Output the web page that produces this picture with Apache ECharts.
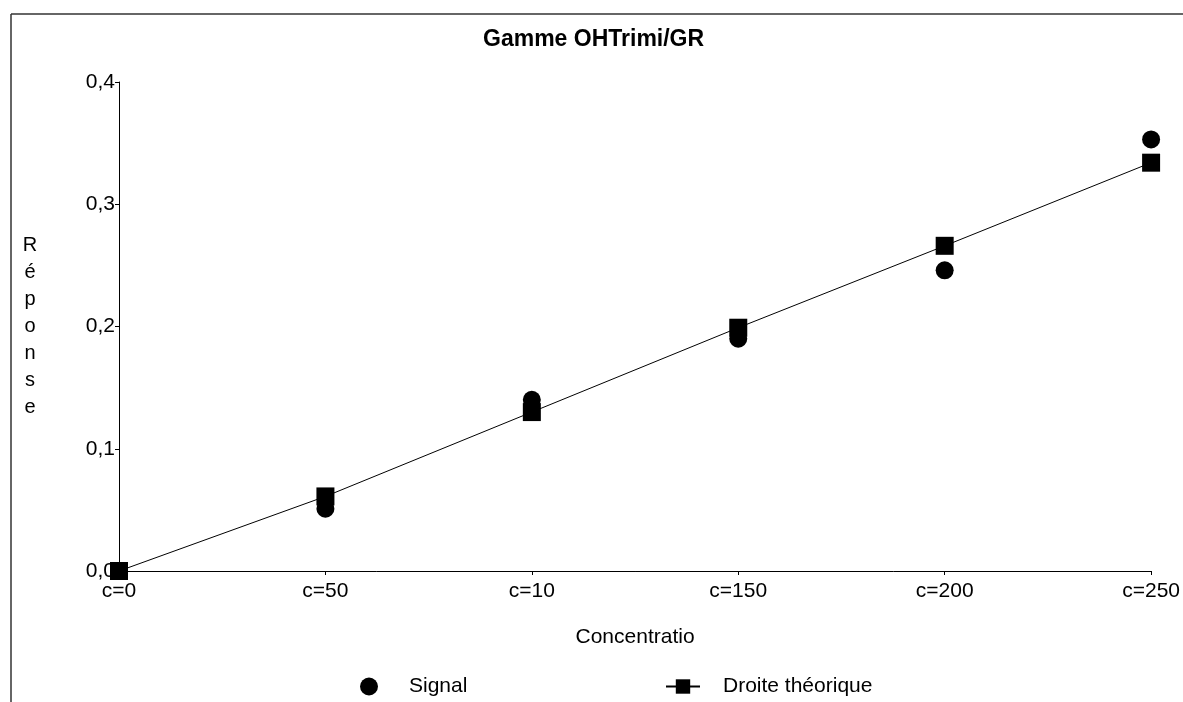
<!DOCTYPE html>
<html>
<head>
<meta charset="utf-8">
<script src="https://cdn.jsdelivr.net/npm/echarts@6/dist/echarts.min.js"></script>
<style>
html,body{margin:0;padding:0;background:#fff;}
#chart{width:1183px;height:702px;}
</style>
</head>
<body>
<div id="chart"></div>
<script>
var categories = ['c=0', 'c=50', 'c=10', 'c=150', 'c=200', 'c=250'];
var signalValues = [0, 0.051, 0.140, 0.190, 0.246, 0.353];
var droiteValues = [0, 0.061, 0.130, 0.199, 0.266, 0.334];
var yTicks = [0, 0.1, 0.2, 0.3, 0.4];

var FONT = '"Liberation Sans", Arial, sans-serif';
var chart = echarts.init(document.getElementById('chart'), null, {renderer: 'canvas'});

chart.setOption({
  backgroundColor: '#ffffff',
  animation: false,
  title: {
    text: 'Gamme OHTrimi/GR',
    left: 478,
    top: 23,
    textStyle: {fontFamily: FONT, fontSize: 23, fontWeight: 'bold', color: '#000'}
  },
  graphic: [
    {type: 'line', shape: {x1: 11, y1: 14, x2: 1183, y2: 14}, style: {stroke: '#333', lineWidth: 1.5}},
    {type: 'line', shape: {x1: 11, y1: 14, x2: 11, y2: 702}, style: {stroke: '#333', lineWidth: 1.5}}
  ],
  legend: [
    {
      data: [{name: 'Signal', icon: 'circle'}],
      left: 355,
      top: 671,
      itemWidth: 26,
      itemHeight: 18,
      textStyle: {fontFamily: FONT, fontSize: 21, color: '#000', padding: [0, 0, 0, 22]}
    },
    {
      data: ['Droite théorique'],
      left: 660,
      top: 671,
      itemWidth: 34,
      itemHeight: 18,
      textStyle: {fontFamily: FONT, fontSize: 21, color: '#000', padding: [0, 0, 0, 18]}
    }
  ],
  grid: {left: 119, right: 27, top: 82, bottom: 131, containLabel: false},
  xAxis: {
    type: 'category',
    data: categories,
    boundaryGap: false,
    name: 'Concentratio',
    nameLocation: 'middle',
    nameGap: 56,
    nameTextStyle: {fontFamily: FONT, fontSize: 21, color: '#000'},
    axisLine: {lineStyle: {color: '#000', width: 1}},
    axisTick: {show: true, length: 4, lineStyle: {color: '#000'}},
    axisLabel: {fontFamily: FONT, fontSize: 21, color: '#000', margin: 10},
    splitLine: {show: false}
  },
  yAxis: {
    type: 'value',
    min: 0,
    max: 0.4,
    interval: 0.1,
    name: 'R\né\np\no\nn\ns\ne',
    nameLocation: 'middle',
    nameRotate: 0,
    nameGap: 89,
    nameTextStyle: {fontFamily: FONT, fontSize: 20, color: '#000', lineHeight: 27, align: 'center', verticalAlign: 'middle'},
    axisLine: {show: true, lineStyle: {color: '#000', width: 1}},
    axisTick: {show: true, length: 4, lineStyle: {color: '#000'}},
    axisLabel: {
      fontFamily: FONT, fontSize: 21, color: '#000', margin: 4,
      formatter: function (v) {
        var t = yTicks.find(function (x) { return Math.abs(x - v) < 1e-9; });
        return (t !== undefined ? t : v).toFixed(1).replace('.', ',');
      }
    },
    splitLine: {show: false}
  },
  series: [
    {
      name: 'Signal',
      type: 'scatter',
      data: signalValues,
      symbol: 'circle',
      symbolSize: 18,
      itemStyle: {color: '#000', opacity: 1},
      z: 2
    },
    {
      name: 'Droite théorique',
      type: 'line',
      data: droiteValues,
      symbol: 'rect',
      symbolSize: 18,
      showAllSymbol: true,
      lineStyle: {color: '#000', width: 1},
      itemStyle: {color: '#000', opacity: 1},
      z: 3
    }
  ]
});
</script>
</body>
</html>
